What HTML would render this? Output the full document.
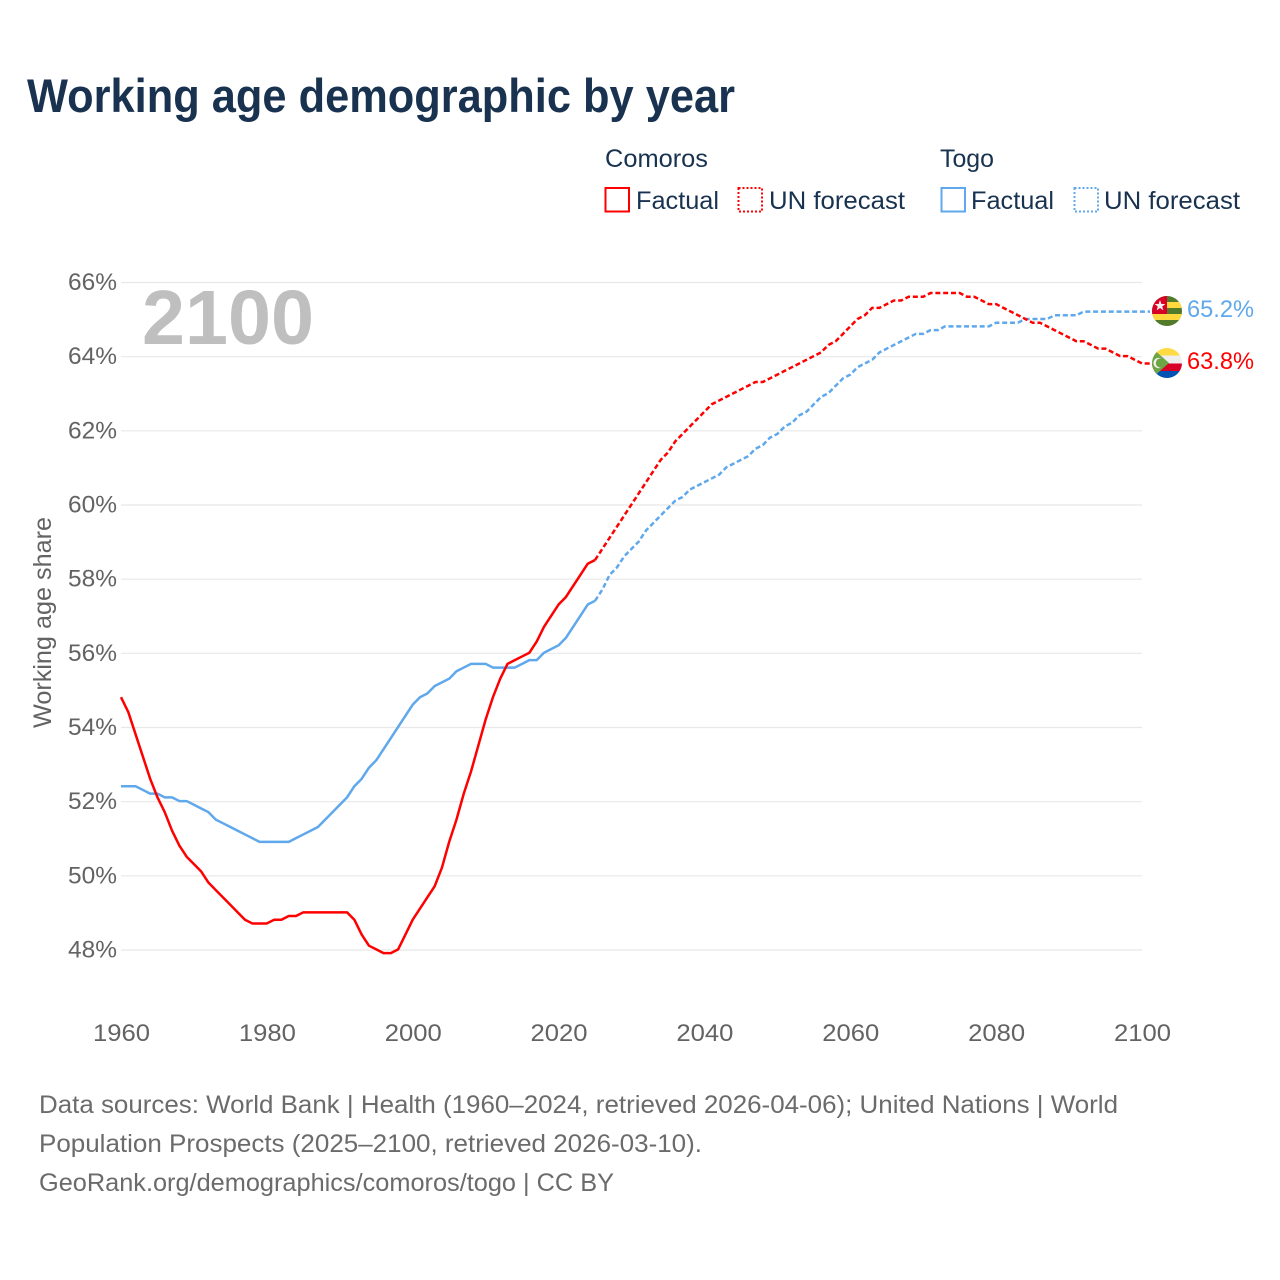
<!DOCTYPE html>
<html lang="en">
<head>
<meta charset="utf-8">
<title>Working age demographic by year</title>
<style>
html,body{margin:0;padding:0;background:#fff;width:1280px;height:1280px;overflow:hidden}
svg{display:block;font-family:"Liberation Sans",sans-serif}
</style>
</head>
<body>
<svg id="chart" width="1280" height="1280" viewBox="0 0 1280 1280" xmlns="http://www.w3.org/2000/svg">
  <defs>
    <clipPath id="clip-togo"><circle cx="1167" cy="311" r="15"/></clipPath>
    <clipPath id="clip-comoros"><circle cx="1167" cy="363" r="15"/></clipPath>
  </defs>
  <rect width="1280" height="1280" fill="#fff"/>
  <text x="27" y="112" font-size="47" font-weight="700" fill="#18324f" textLength="708" lengthAdjust="spacingAndGlyphs">Working age demographic by year</text>

  <g font-size="25" fill="#18324f">
    <text x="605" y="167" textLength="103" lengthAdjust="spacingAndGlyphs">Comoros</text>
    <text x="940" y="167" textLength="54" lengthAdjust="spacingAndGlyphs">Togo</text>
    <rect x="605.5" y="188" width="23.5" height="23.5" fill="none" stroke="#ff0000" stroke-width="2"/>
    <text x="636" y="209" textLength="83" lengthAdjust="spacingAndGlyphs">Factual</text>
    <rect x="738.5" y="188" width="23.5" height="23.5" fill="none" stroke="#ff0000" stroke-width="2" stroke-dasharray="2 2"/>
    <text x="769" y="209" textLength="136" lengthAdjust="spacingAndGlyphs">UN forecast</text>
    <rect x="941.5" y="188" width="23.5" height="23.5" fill="none" stroke="#5fa8ec" stroke-width="2"/>
    <text x="971" y="209" textLength="83" lengthAdjust="spacingAndGlyphs">Factual</text>
    <rect x="1074.5" y="188" width="23.5" height="23.5" fill="none" stroke="#5fa8ec" stroke-width="2" stroke-dasharray="2 2"/>
    <text x="1104" y="209" textLength="136" lengthAdjust="spacingAndGlyphs">UN forecast</text>
  </g>

  <g id="grid"></g>
  <g id="yticks"></g>
  <g id="xticks"></g>
  <text transform="translate(51,728) rotate(-90)" font-size="25" fill="#636363" textLength="211" lengthAdjust="spacingAndGlyphs">Working age share</text>
  <text x="142" y="344" font-size="77" font-weight="700" fill="#bfbfbf" textLength="172" lengthAdjust="spacingAndGlyphs">2100</text>
  <g id="series" transform="translate(0,-0.6)"></g>

  <g clip-path="url(#clip-togo)">
    <rect x="1152" y="296" width="30" height="30" fill="#527a2b"/>
    <rect x="1152" y="302" width="30" height="6" fill="#ffd83d"/>
    <rect x="1152" y="314" width="30" height="6" fill="#ffd83d"/>
    <rect x="1152" y="296" width="15" height="18" fill="#d80027"/>
    <polygon points="1160,300 1161.4,304 1165.4,304 1162.2,306.5 1163.4,310.4 1160,308 1156.6,310.4 1157.8,306.5 1154.6,304 1158.6,304" fill="#f0f0f0"/>
  </g>
  <g clip-path="url(#clip-comoros)">
    <rect x="1152" y="348" width="30" height="7.5" fill="#ffda44"/>
    <rect x="1152" y="355.5" width="30" height="8" fill="#eeeeee"/>
    <rect x="1152" y="363.5" width="30" height="7.5" fill="#d80027"/>
    <rect x="1152" y="371" width="30" height="7" fill="#0052b4"/>
    <polygon points="1152,348 1152,378 1169,363" fill="#6da544"/>
    <circle cx="1158.6" cy="363" r="5.2" fill="#f0f0f0"/>
    <circle cx="1160.4" cy="363" r="4.6" fill="#6da544"/>
  </g>

  <text x="1187" y="317" font-size="24" fill="#5fa8ec" textLength="67" lengthAdjust="spacingAndGlyphs">65.2%</text>
  <text x="1187" y="369" font-size="24" fill="#ff0000" textLength="67" lengthAdjust="spacingAndGlyphs">63.8%</text>

  <g font-size="25" fill="#6b6b6b">
    <text x="39" y="1113" textLength="1079" lengthAdjust="spacingAndGlyphs">Data sources: World Bank | Health (1960–2024, retrieved 2026-04-06); United Nations | World</text>
    <text x="39" y="1152" textLength="663" lengthAdjust="spacingAndGlyphs">Population Prospects (2025–2100, retrieved 2026-03-10).</text>
    <text x="39" y="1191" textLength="575" lengthAdjust="spacingAndGlyphs">GeoRank.org/demographics/comoros/togo | CC BY</text>
  </g>
</svg>
<script>
const yTicks = [48, 50, 52, 54, 56, 58, 60, 62, 64, 66];
const xTicks = [1960, 1980, 2000, 2020, 2040, 2060, 2080, 2100];
const factualStartYear = 1960;
const forecastStartYear = 2025;
const comorosFactual = [54.8,54.4,53.8,53.2,52.6,52.1,51.7,51.2,50.8,50.5,50.3,50.1,49.8,49.6,49.4,49.2,49.0,48.8,48.7,48.7,48.7,48.8,48.8,48.9,48.9,49.0,49.0,49.0,49.0,49.0,49.0,49.0,48.8,48.4,48.1,48.0,47.9,47.9,48.0,48.4,48.8,49.1,49.4,49.7,50.2,50.9,51.5,52.2,52.8,53.5,54.2,54.8,55.3,55.7,55.8,55.9,56.0,56.3,56.7,57.0,57.3,57.5,57.8,58.1,58.4,58.5];
const comorosForecast = [58.5,58.8,59.1,59.4,59.7,60.0,60.3,60.6,60.9,61.2,61.4,61.7,61.9,62.1,62.3,62.5,62.7,62.8,62.9,63.0,63.1,63.2,63.3,63.3,63.4,63.5,63.6,63.7,63.8,63.9,64.0,64.1,64.3,64.4,64.6,64.8,65.0,65.1,65.3,65.3,65.4,65.5,65.5,65.6,65.6,65.6,65.7,65.7,65.7,65.7,65.7,65.6,65.6,65.5,65.4,65.4,65.3,65.2,65.1,65.0,64.9,64.9,64.8,64.7,64.6,64.5,64.4,64.4,64.3,64.2,64.2,64.1,64.0,64.0,63.9,63.8];
const togoFactual = [52.4,52.4,52.4,52.3,52.2,52.2,52.1,52.1,52.0,52.0,51.9,51.8,51.7,51.5,51.4,51.3,51.2,51.1,51.0,50.9,50.9,50.9,50.9,50.9,51.0,51.1,51.2,51.3,51.5,51.7,51.9,52.1,52.4,52.6,52.9,53.1,53.4,53.7,54.0,54.3,54.6,54.8,54.9,55.1,55.2,55.3,55.5,55.6,55.7,55.7,55.7,55.6,55.6,55.6,55.6,55.7,55.8,55.8,56.0,56.1,56.2,56.4,56.7,57.0,57.3,57.4];
const togoForecast = [57.4,57.7,58.1,58.3,58.6,58.8,59.0,59.3,59.5,59.7,59.9,60.1,60.2,60.4,60.5,60.6,60.7,60.8,61.0,61.1,61.2,61.3,61.5,61.6,61.8,61.9,62.1,62.2,62.4,62.5,62.7,62.9,63.0,63.2,63.4,63.5,63.7,63.8,63.9,64.1,64.2,64.3,64.4,64.5,64.6,64.6,64.7,64.7,64.8,64.8,64.8,64.8,64.8,64.8,64.8,64.9,64.9,64.9,64.9,65.0,65.0,65.0,65.0,65.1,65.1,65.1,65.1,65.2,65.2,65.2,65.2,65.2,65.2,65.2,65.2,65.2];

const NS = 'http://www.w3.org/2000/svg';
const xScale = function (year) { return 121 + (year - 1960) * (1142 - 121) / 140; };
const yScale = function (v) { return 950 - (v - 48) * (950 - 282.5) / 18; };

const grid = document.getElementById('grid');
const yG = document.getElementById('yticks');
const xG = document.getElementById('xticks');
const seriesG = document.getElementById('series');

yTicks.forEach(function (t) {
  const line = document.createElementNS(NS, 'line');
  
  
  line.setAttribute('x1', 121);
  line.setAttribute('x2', 1142);
  line.setAttribute('y1', yScale(t));
  line.setAttribute('y2', yScale(t));
  line.setAttribute('stroke', '#e8e8e8');
  line.setAttribute('stroke-width', '1.2');
  grid.appendChild(line);

  const label = document.createElementNS(NS, 'text');
  
  
  label.setAttribute('x', 68);
  label.setAttribute('y', yScale(t) + 7.5);
  label.setAttribute('font-size', '24');
  label.setAttribute('fill', '#636363');
  label.setAttribute('textLength', '49');
  label.setAttribute('lengthAdjust', 'spacingAndGlyphs');
  label.textContent = t + '%';
  yG.appendChild(label);
});

xTicks.forEach(function (t) {
  const label = document.createElementNS(NS, 'text');
  
  
  label.setAttribute('x', xScale(t) - 28);
  label.setAttribute('y', 1041);
  label.setAttribute('font-size', '24');
  label.setAttribute('fill', '#636363');
  label.setAttribute('textLength', '57');
  label.setAttribute('lengthAdjust', 'spacingAndGlyphs');
  label.textContent = t;
  xG.appendChild(label);
});

function pathFrom(values, startYear) {
  return values.map(function (v, i) {
    return (i ? 'L' : 'M') + xScale(startYear + i).toFixed(2) + ',' + yScale(v).toFixed(2);
  }).join(' ');
}

function addLine(name, values, startYear, color, dashed) {
  const p = document.createElementNS(NS, 'path');
  
  
  let d = pathFrom(values, startYear);
  if (dashed) {
    d += ' H1150';
    p.setAttribute('stroke-dasharray', '5 2.8');
  }
  p.setAttribute('d', d);
  p.setAttribute('fill', 'none');
  p.setAttribute('stroke', color);
  p.setAttribute('stroke-width', '2.5');
  p.setAttribute('stroke-linejoin', 'round');
  seriesG.appendChild(p);
}

addLine('line-togo-factual', togoFactual, factualStartYear, '#5fa8ec', false);
addLine('line-comoros-factual', comorosFactual, factualStartYear, '#ff0000', false);
addLine('line-togo-forecast', togoForecast, forecastStartYear, '#5fa8ec', true);
addLine('line-comoros-forecast', comorosForecast, forecastStartYear, '#ff0000', true);
</script>
</body>
</html>
